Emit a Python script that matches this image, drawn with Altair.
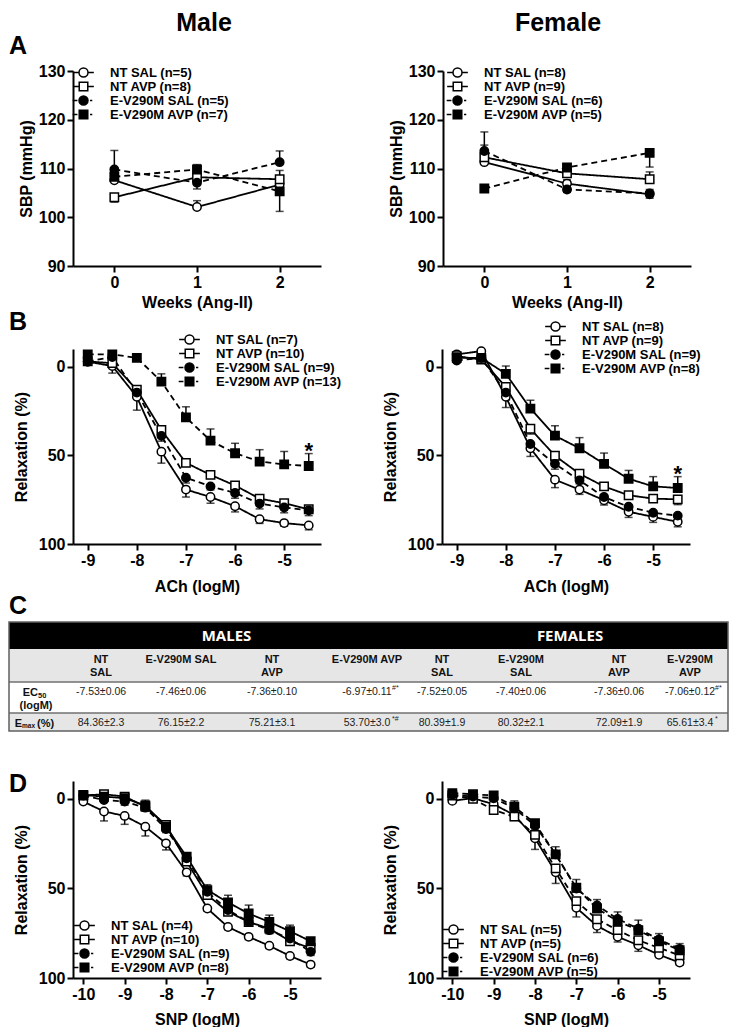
import altair as alt
import pandas as pd

FONT = "Liberation Sans"
GROUPS = ["NT SAL", "NT AVP", "E-V290M SAL", "E-V290M AVP"]

# ---------------- Panel A : SBP ----------------
WEEKS = [0, 1, 2]
A_M_N = [5, 8, 5, 7]
A_M_NTSAL = [107.6, 102.1, 106.7]
A_M_NTAVP = [104.1, 108.2, 107.8]
A_M_ESAL = [109.8, 107.1, 111.3]
A_M_EAVP = [108.3, 109.8, 105.3]
A_M_NTSAL_E = [1.2, 1.3, 0.8]
A_M_NTAVP_E = [-1.0, -1.4, 1.8]
A_M_ESAL_E = [3.9, -1.3, 2.3]
A_M_EAVP_E = [1.5, 1.0, -4.1]

A_F_N = [8, 9, 6, 5]
A_F_NTSAL = [111.3, 106.9, 104.7]
A_F_NTAVP = [112.3, 109.0, 107.8]
A_F_ESAL = [113.6, 105.7, 104.9]
A_F_EAVP = [105.9, 110.2, 113.2]
A_F_NTSAL_E = [1.0, 0.8, -0.8]
A_F_NTAVP_E = [2.5, 0.8, 1.5]
A_F_ESAL_E = [3.9, -0.6, 0.8]
A_F_EAVP_E = [-0.5, 0.5, -2.9]

# ---------------- Panel B : ACh ----------------
ACH_X = [-9, -8.5, -8, -7.5, -7, -6.5, -6, -5.5, -5, -4.5]
B_M_N = [7, 10, 9, 13]
B_M_NTSAL = [-2.8, -0.4, 17.0, 47.9, 69.3, 73.5, 78.7, 86.0, 88.2, 89.5]
B_M_NTAVP = [-3.0, -2.0, 13.0, 35.7, 54.2, 61.0, 67.0, 74.4, 77.0, 80.4]
B_M_ESAL = [-3.0, -5.5, 14.6, 39.0, 62.6, 67.5, 71.2, 77.2, 79.4, 81.0]
B_M_EAVP = [-7.0, -7.0, -5.0, 8.4, 28.6, 41.7, 48.8, 53.5, 55.1, 56.0]
B_M_NTSAL_E = [1.0, 4.0, 7.5, 6.5, 4.2, 3.5, 3.2, 2.4, 1.7, 2.5]
B_M_NTAVP_E = [1.0, 1.0, 2.0, 3.0, 2.0, 2.0, 2.0, 2.0, 2.0, 2.0]
B_M_ESAL_E = [1.0, 1.0, 2.0, 3.0, 3.0, 2.0, 3.0, 3.0, 3.0, 3.0]
B_M_EAVP_E = [-1.0, -1.0, -1.0, -4.4, -6.0, -6.6, -5.6, -6.7, -7.3, -7.0]

B_F_N = [8, 9, 9, 8]
B_F_NTSAL = [-7.0, -8.8, 17.0, 46.0, 63.7, 69.3, 75.3, 81.8, 84.7, 87.5]
B_F_NTAVP = [-6.0, -4.0, 11.4, 35.0, 50.2, 60.4, 67.5, 72.5, 74.4, 74.8]
B_F_ESAL = [-3.5, -5.0, 14.6, 43.6, 54.8, 64.1, 73.5, 79.0, 82.4, 84.0]
B_F_EAVP = [-5.0, -5.0, 4.0, 23.6, 38.9, 46.0, 54.8, 63.2, 67.5, 68.4]
B_F_NTSAL_E = [1.0, 1.0, 6.0, 4.6, 4.5, 2.7, 2.7, 3.2, 3.1, 2.8]
B_F_NTAVP_E = [1.0, 1.0, 2.0, 3.0, 3.0, 2.0, 2.0, 2.0, 2.0, 3.0]
B_F_ESAL_E = [1.0, 1.0, 2.0, 3.0, 3.0, 2.0, 2.0, 2.0, 2.0, 2.0]
B_F_EAVP_E = [-1.0, -1.0, -4.4, -4.7, -5.6, -6.0, -6.1, -4.7, -5.5, -6.4]

# ---------------- Panel C : table ----------------
COL_HEAD = ["NT\nSAL", "E-V290M SAL", "NT\nAVP", "E-V290M AVP",
            "NT\nSAL", "E-V290M\nSAL", "NT\nAVP", "E-V290M\nAVP"]
SEX_HEAD = ["MALES", "FEMALES"]
EC50 = ["-7.53±0.06", "-7.46±0.06", "-7.36±0.10", "-6.97±0.11",
        "-7.52±0.05", "-7.40±0.06", "-7.36±0.06", "-7.06±0.12"]
EC50_SUP = ["", "", "", "#*", "", "", "", "#*"]
EMAX = ["84.36±2.3", "76.15±2.2", "75.21±3.1", "53.70±3.0",
        "80.39±1.9", "80.32±2.1", "72.09±1.9", "65.61±3.4"]
EMAX_SUP = ["", "", "", "*#", "", "", "", "*"]

# ---------------- Panel D : SNP ----------------
SNP_X = [-10, -9.5, -9, -8.5, -8, -7.5, -7, -6.5, -6, -5.5, -5, -4.5]
D_M_N = [4, 10, 9, 8]
D_M_NTSAL = [1.5, 7.0, 9.5, 15.5, 24.8, 41.0, 61.2, 71.5, 77.0, 82.0, 87.7, 92.5]
D_M_NTAVP = [-1.9, -2.6, -1.3, 4.3, 14.6, 35.0, 53.7, 63.0, 68.7, 72.4, 79.5, 83.2]
D_M_ESAL = [-1.9, 0.6, 1.5, 4.9, 16.8, 33.2, 51.9, 62.1, 68.7, 73.3, 78.0, 85.4]
D_M_EAVP = [-2.2, -1.3, -0.4, 3.7, 15.5, 32.3, 50.9, 57.8, 64.0, 68.7, 73.9, 79.5]
D_M_NTSAL_E = [1.0, 5.3, 4.7, 5.2, 3.7, 2.0, 1.5, 1.5, 1.5, 1.5, 1.5, 1.5]
D_M_NTAVP_E = [1.0, 1.0, 2.0, 2.0, 2.0, 2.0, 2.0, 2.0, 2.0, 2.0, 2.0, 2.0]
D_M_ESAL_E = [1.0, 1.0, 2.0, 2.0, 2.0, 2.0, 2.0, 2.0, 2.0, 2.0, 2.0, 2.0]
D_M_EAVP_E = [-1.0, -1.0, -1.0, -3.0, -2.0, -2.0, -3.0, -4.0, -4.7, -3.8, -3.4, -1.9]

D_F_N = [5, 5, 6, 5]
D_F_NTSAL = [1.1, -0.4, 3.0, 9.0, 22.0, 41.0, 60.8, 70.9, 77.0, 81.7, 87.0, 91.4]
D_F_NTAVP = [-1.9, 0.0, 6.2, 9.9, 20.1, 38.8, 57.1, 67.2, 73.3, 78.9, 83.2, 87.3]
D_F_ESAL = [-2.2, -1.3, -0.4, 5.2, 14.9, 31.0, 50.0, 59.5, 67.0, 72.5, 78.5, 83.8]
D_F_EAVP = [-3.2, -2.6, -1.9, 4.3, 13.6, 31.0, 49.6, 61.2, 68.3, 73.3, 79.5, 84.5]
D_F_NTSAL_E = [1.0, 1.0, 2.0, 3.0, 6.2, 6.2, 5.1, 3.7, 2.9, 3.4, 1.5, 1.5]
D_F_NTAVP_E = [1.0, 1.0, 2.0, 2.0, 2.0, 2.0, 2.0, 2.0, 2.0, 2.0, 2.0, 2.0]
D_F_ESAL_E = [1.0, 1.0, 2.0, 2.0, 2.0, 2.0, 2.0, 2.0, 2.0, 2.0, 2.0, 2.0]
D_F_EAVP_E = [-1.0, -1.0, -1.0, -3.2, -2.0, -4.3, -4.6, -5.0, -5.2, -5.6, -4.3, -3.7]

# ---------------- styles ----------------
SHAPES = ["circle", "square", "circle", "square"]
FILLS = ["white", "white", "black", "black"]
STROKES = ["black", "black", "black", "black"]
DASHES = [[1, 0], [1, 0], [6, 4], [6, 4]]
_C = "M1,0A1,1,0,1,1,-1,0A1,1,0,1,1,1,0Z"
_S = "M-0.95,-0.95H0.95V0.95H-0.95Z"
_SOLID = "M-2.3,0H-1M1,0H2.3"
_DASH = "M-2.4,0H-1.35M1.45,0H1.95"
LEG_PATHS = [_SOLID + _C, _SOLID + _S, _DASH + _C, _DASH + _S]
LETTER_X = -64


def panel(xvals, means, errs, ns, xdom, xticks, ydom, yticks, rev, xtitle, ytitle,
          leg_xy, letter, letter_y, header=None, star=False, height=195,
          ytpad=4, xtpad=6):
    labels = [f"{g} (n={n})" for g, n in zip(GROUPS, ns)]
    recs = []
    for lab, m_list, e_list in zip(labels, means, errs):
        for xv, m, e in zip(xvals, m_list, e_list):
            recs.append({"x": xv, "y": m, "top": m + e, "group": lab})
    df = pd.DataFrame(recs)
    xscale = alt.Scale(domain=xdom, nice=False, zero=False)
    yscale = alt.Scale(domain=ydom, nice=False, zero=False, reverse=rev)
    xaxis = alt.Axis(values=xticks, title=xtitle, titlePadding=xtpad,
                     labelExpr="toString(datum.value)")
    yaxis = alt.Axis(values=yticks, title=ytitle, titlePadding=ytpad,
                     labelExpr="toString(datum.value)")

    def X(f="x"):
        return alt.X(f + ":Q", scale=xscale, axis=xaxis)

    def Y(f="y"):
        return alt.Y(f + ":Q", scale=yscale, axis=yaxis)

    base = alt.Chart(df)
    err = base.mark_rule(color="black", strokeWidth=1.5).encode(
        x=X(), y=Y(), y2="top:Q")
    cap = base.mark_tick(orient="horizontal", color="black", size=8, thickness=1.5).encode(
        x=X(), y=Y("top"))
    line = base.mark_line(color="black", strokeWidth=1.8).encode(
        x=X(), y=Y(),
        strokeDash=alt.StrokeDash("group:N", scale=alt.Scale(domain=labels, range=DASHES), legend=None),
        detail="group:N")
    pts = base.mark_point(filled=True, stroke="black", strokeWidth=1.5, size=70, opacity=1).encode(
        x=X(), y=Y(),
        shape=alt.Shape("group:N", scale=alt.Scale(domain=labels, range=SHAPES), legend=None),
        fill=alt.Fill("group:N", scale=alt.Scale(domain=labels, range=FILLS), legend=None))
    leg = alt.Legend(orient="none", legendX=leg_xy[0], legendY=leg_xy[1], title=None,
                     labelFont=FONT, labelFontSize=13, labelFontWeight="bold", labelColor="black",
                     symbolSize=81, symbolStrokeWidth=1.5,
                     symbolOffset=0, labelOffset=20, rowPadding=-4.5, labelLimit=400, padding=0)
    legl = base.transform_filter("false").mark_point(
        filled=True, strokeWidth=1.5, size=81, opacity=1).encode(
        x=X(), y=Y(),
        shape=alt.Shape("group:N", scale=alt.Scale(domain=labels, range=LEG_PATHS), legend=leg),
        fill=alt.Fill("group:N", scale=alt.Scale(domain=labels, range=FILLS), legend=leg),
        stroke=alt.Stroke("group:N", scale=alt.Scale(domain=labels, range=STROKES), legend=leg))
    layers = [err, cap, line, pts, legl]
    if star:
        sdf = pd.DataFrame({"x": [xvals[-1]], "y": [means[3][-1] + errs[3][-1]], "t": ["*"]})
        layers.append(alt.Chart(sdf).mark_text(font=FONT, fontSize=22, fontWeight="bold",
                                               baseline="alphabetic", dy=4, color="black").encode(
            x=X(), y=Y(), text="t:N"))
    if letter:
        ldf = pd.DataFrame({"t": [letter]})
        layers.append(alt.Chart(ldf).mark_text(font=FONT, fontSize=25, fontWeight="bold",
                                               align="left", baseline="alphabetic", color="black").encode(
            x=alt.value(LETTER_X), y=alt.value(letter_y), text="t:N"))
    if header:
        hdf = pd.DataFrame({"t": [header[0]]})
        layers.append(alt.Chart(hdf).mark_text(font=FONT, fontSize=25, fontWeight="bold",
                                               align="center", baseline="alphabetic", color="black").encode(
            x=alt.value(header[1]), y=alt.value(header[2]), text="t:N"))
    return alt.layer(*layers).resolve_scale(
        shape="independent", fill="independent", stroke="independent").properties(
        width=248, height=height)


A_m = panel(WEEKS, [A_M_NTSAL, A_M_NTAVP, A_M_ESAL, A_M_EAVP],
            [A_M_NTSAL_E, A_M_NTAVP_E, A_M_ESAL_E, A_M_EAVP_E], A_M_N,
            [-0.5, 2.5], [0, 1, 2], [90, 130], [90, 100, 110, 120, 130], False,
            "Weeks (Ang-II)", "SBP (mmHg)", (4, -5), "A", -17,
            header=("Male", 131, -40), ytpad=4, xtpad=4)
A_f = panel(WEEKS, [A_F_NTSAL, A_F_NTAVP, A_F_ESAL, A_F_EAVP],
            [A_F_NTSAL_E, A_F_NTAVP_E, A_F_ESAL_E, A_F_EAVP_E], A_F_N,
            [-0.5, 2.5], [0, 1, 2], [90, 130], [90, 100, 110, 120, 130], False,
            "Weeks (Ang-II)", "SBP (mmHg)", (8, -5), None, None,
            header=("Female", 115, -40), ytpad=4, xtpad=4)
B_m = panel(ACH_X, [B_M_NTSAL, B_M_NTAVP, B_M_ESAL, B_M_EAVP],
            [B_M_NTSAL_E, B_M_NTAVP_E, B_M_ESAL_E, B_M_EAVP_E], B_M_N,
            [-9.3, -4.25], [-9, -8, -7, -6, -5], [-10, 100], [0, 50, 100], True,
            "ACh (logM)", "Relaxation (%)", (110, -16), "B", -19, star=True,
            ytpad=9, xtpad=10)
B_f = panel(ACH_X, [B_F_NTSAL, B_F_NTAVP, B_F_ESAL, B_F_EAVP],
            [B_F_NTSAL_E, B_F_NTAVP_E, B_F_ESAL_E, B_F_EAVP_E], B_F_N,
            [-9.3, -4.25], [-9, -8, -7, -6, -5], [-10, 100], [0, 50, 100], True,
            "ACh (logM)", "Relaxation (%)", (107, -29), None, None, star=True,
            ytpad=9, xtpad=10)
D_m = panel(SNP_X, [D_M_NTSAL, D_M_NTAVP, D_M_ESAL, D_M_EAVP],
            [D_M_NTSAL_E, D_M_NTAVP_E, D_M_ESAL_E, D_M_EAVP_E], D_M_N,
            [-10.25, -4.25], [-10, -9, -8, -7, -6, -5], [-10, 100], [0, 50, 100], True,
            "SNP (logM)", "Relaxation (%)", (5, 138), "D", 11, height=197,
            ytpad=9, xtpad=9)
D_f = panel(SNP_X, [D_F_NTSAL, D_F_NTAVP, D_F_ESAL, D_F_EAVP],
            [D_F_NTSAL_E, D_F_NTAVP_E, D_F_ESAL_E, D_F_EAVP_E], D_F_N,
            [-10.25, -4.25], [-10, -9, -8, -7, -6, -5], [-10, 100], [0, 50, 100], True,
            "SNP (logM)", "Relaxation (%)", (5, 142), None, None, height=197,
            ytpad=9, xtpad=9)

# ---------------- table chart ----------------
COLX = [-37, 28, 108, 199, 294, 369, 448, 546, 617]
ROWY = [0, 27, 60, 91, 109]
ROW_FILL = ["black", "#e6e6e6", "white", "#e6e6e6"]
TX = alt.Scale(domain=list(range(9)), range=COLX, nice=False, zero=False)
TY = alt.Scale(domain=list(range(5)), range=ROWY, nice=False, zero=False)


def tx(f="c"):
    return alt.X(f + ":Q", scale=TX, axis=None)


def ty(f="r"):
    return alt.Y(f + ":Q", scale=TY, axis=None)


bg_df = pd.DataFrame({"r": [0, 1, 2, 3], "r2": [1, 2, 3, 4]})
bg = alt.Chart(bg_df).mark_rect().encode(
    x=alt.value(LETTER_X), x2=alt.value("width"), y=ty(), y2="r2:Q",
    fill=alt.Fill("r:O", scale=alt.Scale(domain=[0, 1, 2, 3], range=ROW_FILL), legend=None))
sep = alt.Chart(pd.DataFrame({"r": [2, 3]})).mark_rule(color="#707070", strokeWidth=1.5).encode(
    x=alt.value(LETTER_X), x2=alt.value("width"), y=ty())
border = alt.Chart(pd.DataFrame({"r": [0], "r2": [4]})).mark_rect(
    fillOpacity=0, stroke="#606060", strokeWidth=1.5).encode(
    x=alt.value(LETTER_X), x2=alt.value("width"), y=ty(), y2="r2:Q")

cols = list(range(1, 9))
sex_df = pd.DataFrame({"c": [sum(cols[:4]) / 4, sum(cols[4:]) / 4], "r": [0, 0], "t": SEX_HEAD})
sex_txt = alt.Chart(sex_df).mark_text(font="Open Sans", fontSize=15, fontWeight="bold",
                                      color="white", baseline="middle", dy=14).encode(
    x=tx(), y=ty(), text="t:N")
head_df = pd.DataFrame({"c": cols, "r": [1] * 8, "t": COL_HEAD})
head_txt = alt.Chart(head_df).mark_text(font=FONT, fontSize=11, fontWeight="bold", color="#111",
                                        baseline="top", dy=5, lineBreak="\n", lineHeight=12.5).encode(
    x=tx(), y=ty(), text="t:N")
val_df = pd.DataFrame({"c": cols + cols, "r": [2] * 8 + [3] * 8, "t": EC50 + EMAX,
                       "s": EC50_SUP + EMAX_SUP})
val_txt = alt.Chart(val_df).mark_text(font=FONT, fontSize=10.5, color="#222",
                                      baseline="top", dy=5).encode(x=tx(), y=ty(), text="t:N")
sup_txt = alt.Chart(val_df).mark_text(font=FONT, fontSize=7, color="#222", align="left",
                                      baseline="top", dx=25, dy=2).encode(x=tx(), y=ty(), text="s:N")
lab_main = pd.DataFrame({"c": [0, 0], "r": [2, 3], "t": ["EC", "E"]})
lab_main_txt1 = alt.Chart(lab_main.iloc[[0]]).mark_text(
    font=FONT, fontSize=11, fontWeight="bold", color="#111", align="right", baseline="top",
    dx=2, dy=5).encode(x=tx(), y=ty(), text="t:N")
lab_main_txt2 = alt.Chart(lab_main.iloc[[1]]).mark_text(
    font=FONT, fontSize=11, fontWeight="bold", color="#111", align="right", baseline="top",
    dx=-14, dy=5).encode(x=tx(), y=ty(), text="t:N")
lab_sub = pd.DataFrame({"c": [0, 0], "r": [2, 3], "t": ["50", "max"]})
lab_sub_txt1 = alt.Chart(lab_sub.iloc[[0]]).mark_text(
    font=FONT, fontSize=7.5, fontWeight="bold", color="#111", align="left", baseline="top",
    dx=2, dy=10).encode(x=tx(), y=ty(), text="t:N")
lab_sub_txt2 = alt.Chart(lab_sub.iloc[[1]]).mark_text(
    font=FONT, fontSize=6.5, fontWeight="bold", color="#111", align="left", baseline="top",
    dx=-14, dy=10).encode(x=tx(), y=ty(), text="t:N")
lab_unit1 = alt.Chart(pd.DataFrame({"c": [0], "r": [2], "t": ["(logM)"]})).mark_text(
    font=FONT, fontSize=11, fontWeight="bold", color="#111", baseline="top",
    dy=17.5).encode(x=tx(), y=ty(), text="t:N")
lab_unit2 = alt.Chart(pd.DataFrame({"c": [0], "r": [3], "t": ["(%)"]})).mark_text(
    font=FONT, fontSize=11, fontWeight="bold", color="#111", align="left", baseline="top",
    dx=1, dy=5).encode(x=tx(), y=ty(), text="t:N")
c_letter = alt.Chart(pd.DataFrame({"t": ["C"]})).mark_text(
    font=FONT, fontSize=25, fontWeight="bold", align="left", baseline="alphabetic",
    color="black").encode(x=alt.value(LETTER_X), y=alt.value(-8), text="t:N")

table = alt.layer(bg, sep, border, sex_txt, head_txt, val_txt, sup_txt,
                  lab_main_txt1, lab_main_txt2, lab_sub_txt1, lab_sub_txt2,
                  lab_unit1, lab_unit2, c_letter).properties(width=655, height=150)

rowA = alt.hconcat(A_m, A_f, spacing=67)
rowB = alt.hconcat(B_m, B_f, spacing=40)
rowD = alt.hconcat(D_m, D_f, spacing=61)

chart = alt.vconcat(rowA, rowB, table, rowD, spacing=0).properties(
    padding={"left": 0, "top": 3, "right": 0, "bottom": 0}
).configure_view(stroke=None).configure_axis(
    domainColor="black", domainWidth=2, tickColor="black", tickWidth=2, tickSize=6,
    labelFont=FONT, labelFontSize=16, labelFontWeight="bold", labelColor="black",
    titleFont=FONT, titleFontSize=16, titleFontWeight="bold", titleColor="black",
    grid=False, labelPadding=2, labelFlush=False, labelOverlap=False
)

chart.save("out.html", embed_options={"renderer": "svg", "actions": False})
